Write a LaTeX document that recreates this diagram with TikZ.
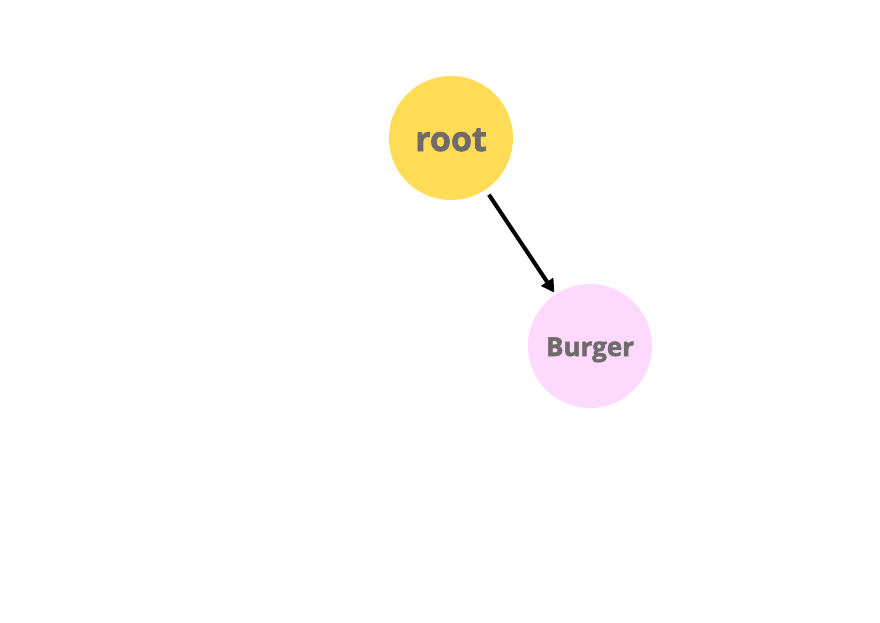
\documentclass[tikz,border=0pt]{standalone}
\usepackage{fontspec}
\setmainfont{Open Sans}[BoldFeatures={FakeBold=2}]
\usetikzlibrary{arrows.meta}
\definecolor{rootyellow}{HTML}{FFDC55}
\definecolor{burgerpink}{HTML}{FDD9FE}
\definecolor{labelgray}{HTML}{706B6B}
\newcommand{\lowerlabel}[2]{\raisebox{-#1}[0pt][0pt]{#2}}
\tikzset{
    treenode/.style={circle,minimum size=124pt,inner sep=0pt,text=labelgray,font=\bfseries},
    edge/.style={line width=4pt,-{Triangle[length=13pt,width=14pt]},shorten <=6pt,shorten >=2pt}
}
\begin{document}
\begin{tikzpicture}[x=1pt,y=-1pt]
                \useasboundingbox (0,0) rectangle (880,622);
                %% nodes
                \node[treenode,fill=rootyellow,font=\bfseries\fontsize{34}{34}\selectfont] (root) at (451,138) {\lowerlabel{13pt}{root}};
                \node[treenode,fill=burgerpink,font=\bfseries\fontsize{26}{26}\selectfont] (burger) at (590,346) {\lowerlabel{10pt}{Burger}};
                %% edge
                \draw[edge] (root) -- (burger);
            \end{tikzpicture}
\end{document}
